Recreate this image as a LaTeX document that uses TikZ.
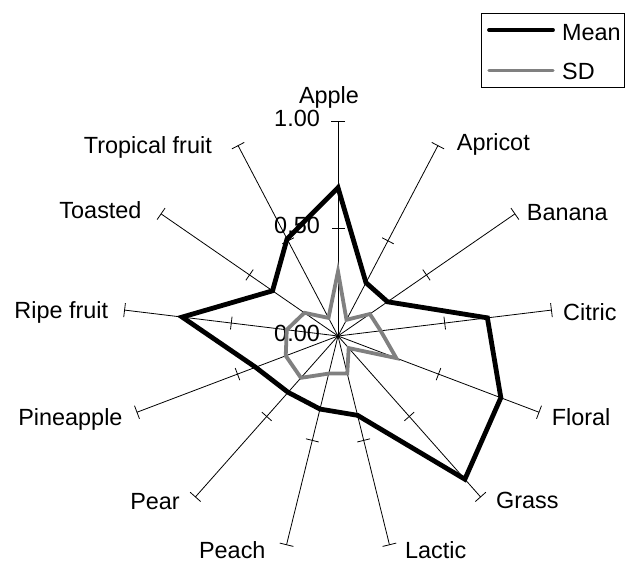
\documentclass[tikz,border=0pt]{standalone}
\usepackage{fontspec}
\setmainfont{Liberation Sans}
\usetikzlibrary{arrows.meta,positioning,calc}

\begin{document}
\begin{tikzpicture}[x=1bp,y=1bp,font=\fontsize{23.5}{28}\selectfont]
\tikzstyle{ax}=[line width=0.8bp]
\tikzstyle{lw}=[inner sep=0pt,anchor=base west]
\tikzstyle{le}=[inner sep=0pt,anchor=base east]
\tikzstyle{meanline}=[line width=4.8bp,black]
\tikzstyle{sdline}=[line width=3.8bp,black!50]
\useasboundingbox (-338,-226) rectangle (288,336);
\coordinate (o) at (0,0);
% axes with ticks at 0.50 and 1.00
\foreach \i in {0,...,12}{
  \coordinate (e\i) at ({90-\i*360/13}:215);
  \coordinate (h\i) at ({90-\i*360/13}:107.5);
  \draw[ax] (o) -- (e\i);
  \draw[ax] ($(e\i)!7bp!90:(o)$) -- ($(e\i)!7bp!-90:(o)$);
  \draw[ax] ($(h\i)!6.5bp!90:(o)$) -- ($(h\i)!6.5bp!-90:(o)$);
}
% scale labels
\node[le] (v100) at (-18,209.3) {1.00};
\node[le] (v050) at (-18,102) {0.50};
\node[le] (v000) at (-18,-6) {0.00};
% axis labels
\node[inner sep=0pt,anchor=base] (lApple) at (-9,232.7) {Apple};
\node[lw] (lApricot) at (118.7,185.9) {Apricot};
\node[lw] (lBanana) at (188.7,115.9) {Banana};
\node[lw] (lCitric) at (225,15.9) {Citric};
\node[lw] (lFloral) at (213.7,-89.1) {Floral};
\node[lw] (lGrass) at (158,-172.4) {Grass};
\node[lw] (lLactic) at (67,-222.5) {Lactic};
\node[le] (lPeach) at (-72.3,-222.5) {Peach};
\node[le] (lPear) at (-158,-173.3) {Pear};
\node[le] (lPineapple) at (-215.3,-90) {Pineapple};
\node[le] (lRipe) at (-229.7,17.6) {Ripe fruit};
\node[le] (lToasted) at (-196.3,117.6) {Toasted};
\node[le] (lTropical) at (-126,182.6) {Tropical fruit};
% data
\foreach \v [count=\i from 0] in {0.69,0.28,0.28,0.70,0.81,0.89,0.38,0.35,0.35,0.41,0.73,0.37,0.51}
  \coordinate (m\i) at ({90-\i*360/13}:{215*\v});
\foreach \v [count=\i from 0] in {0.30,0.085,0.18,0.20,0.29,0.075,0.18,0.18,0.26,0.26,0.24,0.19,0.095}
  \coordinate (s\i) at ({90-\i*360/13}:{215*\v});
\draw[meanline] (m0) \foreach \i in {1,...,12}{ -- (m\i)} -- cycle;
\draw[sdline] (s0) \foreach \i in {1,...,12}{ -- (s\i)} -- cycle;
% legend
\node[draw,ax,minimum width=143.5bp,minimum height=74.4bp,inner sep=0pt] (leg) at (214.75,285.5) {};
\node[lw] (tMean) at (224,295.9) {Mean};
\node[lw] (tSD) at (224,256.6) {SD};
\coordinate (km1) at (151,306);
\coordinate (km2) at (215,306);
\coordinate (ks1) at (151,265.3);
\coordinate (ks2) at (215,265.3);
\draw[line width=3.8bp,line cap=round] (km1) -- (km2);
\draw[line width=3.3bp,black!50,line cap=round] (ks1) -- (ks2);
\end{tikzpicture}
\end{document}
